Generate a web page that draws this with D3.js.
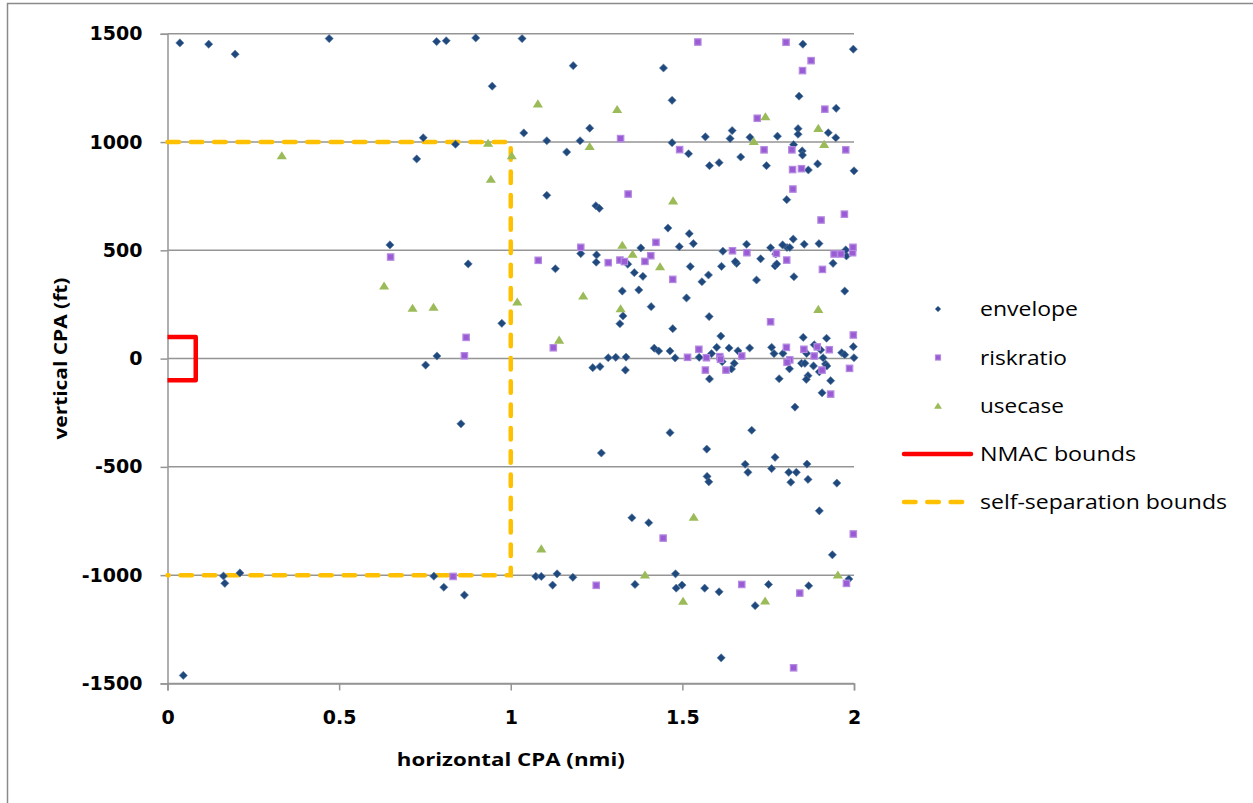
<!DOCTYPE html>
<html><head><meta charset="utf-8">
<script src="https://cdn.jsdelivr.net/npm/d3@7"></script>
<style>html,body{margin:0;padding:0;background:#fff;}svg{display:block;}</style>
</head><body>
<svg id="chart" width="1253" height="803"></svg>
<script>
// ---- data ----
const xTicks = [0, 0.5, 1, 1.5, 2];
const xTickLabels = ["0", "0.5", "1", "1.5", "2"];
const yTicks = [-1500, -1000, -500, 0, 500, 1000, 1500];
const yTickLabels = ["-1500", "-1000", "-500", "0", "500", "1000", "1500"];
const seriesNames = ["envelope", "riskratio", "usecase", "NMAC bounds", "self-separation bounds"];

const envelope = [[0.036,1458],[0.120,1452],[0.197,1406],[0.471,1478],[0.784,1464],[0.812,1468],[0.898,1481],[0.946,1258],[0.745,1020],[0.726,922],[0.839,990],[0.648,525],[0.876,437],[1.033,1478],[1.182,1353],[1.445,1342],[1.851,1452],[1.998,1429],[1.470,1193],[1.840,1212],[1.948,1156],[1.038,1042],[1.105,1006],[1.230,1064],[1.202,1006],[1.163,954],[1.470,997],[1.518,946],[1.579,891],[1.607,905],[1.567,1024],[1.645,1053],[1.639,1016],[1.670,931],[1.697,1022],[1.745,891],[1.777,1027],[1.837,1062],[1.837,1036],[1.824,988],[1.849,959],[1.850,940],[1.867,871],[1.894,899],[1.925,1043],[1.947,1020],[2.0,867],[1.105,754],[1.248,706],[1.258,694],[1.804,734],[1.458,603],[1.520,577],[1.532,531],[1.491,517],[1.618,496],[1.687,528],[1.379,511],[1.204,485],[1.250,479],[1.249,445],[1.130,415],[1.341,436],[1.360,397],[1.385,380],[1.523,425],[1.325,312],[1.373,317],[1.512,280],[1.409,240],[1.327,197],[1.318,161],[0.974,163],[1.472,138],[1.418,48],[1.431,35],[1.464,35],[1.284,4],[1.306,6],[1.336,7],[1.479,3],[1.239,-42],[1.260,-37],[1.334,-53],[1.464,-342],[1.614,426],[1.557,355],[1.576,386],[1.658,440],[1.654,448],[1.728,461],[1.716,363],[1.772,483],[1.770,428],[1.775,437],[1.825,378],[1.939,440],[1.978,474],[1.973,312],[1.578,194],[1.612,104],[1.852,98],[1.920,94],[1.998,55],[1.600,52],[1.636,49],[1.662,36],[1.696,49],[1.585,23],[1.549,6],[1.616,-14],[1.651,-22],[1.643,-48],[1.579,-94],[1.760,52],[1.767,23],[1.793,24],[1.812,-47],[1.782,-93],[1.862,24],[1.884,64],[1.903,40],[1.964,27],[1.973,18],[2.0,4],[1.910,4],[1.847,-22],[1.857,-22],[1.882,-34],[1.917,-25],[1.921,-34],[1.899,-61],[1.866,-79],[1.861,-96],[1.932,-102],[1.907,-158],[1.828,-224],[1.702,-331],[1.264,-436],[1.571,-418],[1.683,-488],[1.770,-456],[1.863,-487],[1.760,-508],[1.691,-525],[1.810,-525],[1.832,-525],[1.816,-571],[1.866,-558],[1.950,-575],[1.572,-544],[1.577,-569],[1.899,-703],[1.353,-735],[1.402,-758],[1.937,-906],[1.073,-1006],[1.089,-1006],[1.135,-994],[1.122,-1046],[1.181,-1010],[1.362,-1043],[1.480,-994],[1.482,-1060],[1.499,-1046],[1.565,-1060],[1.607,-1077],[1.613,-1382],[1.712,-1141],[1.751,-1043],[1.868,-1049],[1.985,-1018],[0.163,-1004],[0.167,-1038],[0.211,-990],[0.046,-1463],[0.776,-1005],[0.805,-1056],[0.865,-1092],[0.785,12],[0.752,-30],[0.855,-301],[1.805,513],[1.813,513],[1.792,525],[1.757,512],[1.823,552],[1.855,528],[1.898,531],[1.976,502]];

const riskratio = [[0.650,469],[0.870,98],[0.865,13],[0.832,-1006],[1.545,1462],[1.802,1461],[1.875,1376],[1.850,1330],[1.915,1152],[1.718,1110],[1.320,1016],[1.492,965],[1.738,964],[1.819,964],[1.976,964],[1.821,873],[1.847,877],[1.822,783],[1.342,760],[1.904,640],[1.972,667],[1.204,514],[1.423,537],[1.080,454],[1.284,443],[1.318,455],[1.331,448],[1.408,475],[1.391,449],[1.472,366],[1.124,50],[1.515,6],[1.646,498],[1.688,489],[1.774,486],[1.804,455],[1.908,412],[1.942,483],[1.962,483],[1.996,489],[1.997,514],[1.757,170],[1.998,109],[1.548,43],[1.570,4],[1.609,9],[1.611,-3],[1.673,12],[1.567,-53],[1.627,-53],[1.803,52],[1.813,-6],[1.805,-17],[1.854,43],[1.893,54],[1.928,41],[1.884,12],[1.907,-53],[1.987,-45],[1.932,-164],[1.444,-829],[1.998,-810],[1.249,-1047],[1.673,-1043],[1.842,-1083],[1.824,-1428],[1.978,-1038]];

const usecase = [[0.333,936],[0.934,994],[0.942,828],[1.003,936],[1.079,1176],[1.310,1150],[1.230,979],[1.473,728],[1.742,1117],[1.708,1002],[1.896,1063],[1.913,989],[1.325,523],[1.355,482],[1.435,424],[1.211,289],[1.320,230],[1.019,261],[1.141,85],[1.896,227],[0.631,335],[0.714,232],[0.775,237],[1.533,-733],[1.089,-879],[1.391,-1000],[1.502,-1121],[1.741,-1120],[1.953,-1000]];

const nmacBounds = [[0,100],[0.0823,100],[0.0823,-100],[0,-100]];
const selfSepBounds = [[0,1000],[1,1000],[1,-1000],[0,-1000]];

// ---- styles ----
const C_ENV = "#1F497D", C_RISK = "#9A5CD4", C_RISK_STROKE = "#B58AE2", C_USE = "#9BBB59";
const C_NMAC = "#FF0000", C_SELF = "#FFC000", C_GRID = "#959595";

const svg = d3.select("#chart");
const x = d3.scaleLinear().domain([0, 2]).range([167.5, 854]);
const y = d3.scaleLinear().domain([-1500, 1500]).range([683.4, 33.8]);

// outer border (chart area frame, partially cropped)
svg.append("rect").attr("x", 7.5).attr("y", 3.5).attr("width", 1400).attr("height", 1000)
  .attr("fill", "none").attr("stroke", "#8a8a8a").attr("stroke-width", 1.5);

// gridlines
svg.append("g").selectAll("line").data(yTicks).join("line")
  .attr("x1", x(0)).attr("x2", x(2)).attr("y1", d => y(d)).attr("y2", d => y(d))
  .attr("stroke", C_GRID).attr("stroke-width", 1.5);

// y axis
const yAxis = d3.axisLeft(y).tickValues(yTicks).tickSize(7).tickPadding(18)
  .tickFormat((d, i) => yTickLabels[i]);
const gy = svg.append("g").attr("transform", `translate(${x(0)},0)`).call(yAxis);
gy.select(".domain").attr("stroke", C_GRID).attr("stroke-width", 1.5);
gy.selectAll(".tick line").attr("stroke", C_GRID).attr("stroke-width", 1.5);
gy.selectAll(".tick text").attr("font-family", "'DejaVu Sans', Verdana, sans-serif")
  .attr("font-weight", "bold").attr("font-size", 19).attr("fill", "#000");

// x axis
const xAxis = d3.axisBottom(x).tickValues(xTicks).tickSize(7).tickPadding(34)
  .tickFormat((d, i) => xTickLabels[i]);
const gx = svg.append("g").attr("transform", `translate(0,${y(-1500)})`).call(xAxis);
gx.select(".domain").attr("stroke", C_GRID).attr("stroke-width", 1.5);
gx.selectAll(".tick line").attr("stroke", C_GRID).attr("stroke-width", 1.5);
gx.selectAll(".tick text").attr("font-family", "'DejaVu Sans', Verdana, sans-serif")
  .attr("font-weight", "bold").attr("font-size", 19).attr("fill", "#000").attr("dy", "0");

// axis titles
svg.append("text").attr("transform", `translate(67,${(y(-1500) + y(1500)) / 2}) rotate(-90)`)
  .attr("text-anchor", "middle").attr("font-family", "'Open Sans', sans-serif")
  .attr("font-weight", "bold").attr("font-size", 18.5).attr("textLength", 162).attr("lengthAdjust", "spacingAndGlyphs")
  .text("vertical CPA (ft)");
svg.append("text").attr("x", (x(0) + x(2)) / 2).attr("y", 766)
  .attr("text-anchor", "middle").attr("font-family", "'Open Sans', sans-serif")
  .attr("font-weight", "bold").attr("font-size", 18.5).attr("textLength", 228).attr("lengthAdjust", "spacingAndGlyphs")
  .text("horizontal CPA (nmi)");

// bounds lines
const line = d3.line().x(d => x(d[0])).y(d => y(d[1]));
svg.append("path").datum(nmacBounds).attr("d", line).attr("fill", "none")
  .attr("stroke", C_NMAC).attr("stroke-width", 4.5).attr("stroke-linejoin", "round");
svg.append("path").datum(selfSepBounds).attr("d", line).attr("fill", "none")
  .attr("stroke", C_SELF).attr("stroke-width", 4.5).attr("stroke-linecap", "round")
  .attr("stroke-dasharray", "11.5 11.8");

// markers
const diamond = s => `M0,${-s}L${s},0L0,${s}L${-s},0Z`;
const tri = s => `M0,${-s}L${s * 1.1},${s * 0.75}L${-s * 1.1},${s * 0.75}Z`;

svg.append("g").selectAll("path").data(envelope).join("path")
  .attr("transform", d => `translate(${x(d[0])},${y(d[1])})`)
  .attr("d", diamond(4.1)).attr("fill", C_ENV).attr("stroke", "#5b7aa5").attr("stroke-width", 0.6);

svg.append("g").selectAll("rect").data(riskratio).join("rect")
  .attr("x", d => x(d[0]) - 3.2).attr("y", d => y(d[1]) - 3.2).attr("width", 6.4).attr("height", 6.4)
  .attr("fill", C_RISK).attr("stroke", C_RISK_STROKE).attr("stroke-width", 1.2);

svg.append("g").selectAll("path").data(usecase).join("path")
  .attr("transform", d => `translate(${x(d[0])},${y(d[1])})`)
  .attr("d", tri(4.6)).attr("fill", C_USE);

// legend
const lg = svg.append("g");
const rowY = [309, 357.5, 406, 454, 502];
const lx = 938, tx = 980;
lg.append("path").attr("transform", `translate(${lx},${rowY[0]})`).attr("d", diamond(3)).attr("fill", C_ENV);
lg.append("rect").attr("x", lx - 2.6).attr("y", rowY[1] - 2.6).attr("width", 5.2).attr("height", 5.2)
  .attr("fill", C_RISK).attr("stroke", C_RISK_STROKE).attr("stroke-width", 1);
lg.append("path").attr("transform", `translate(${lx},${rowY[2]})`).attr("d", tri(3.6)).attr("fill", C_USE);
lg.append("line").attr("x1", 904).attr("x2", 971).attr("y1", rowY[3]).attr("y2", rowY[3])
  .attr("stroke", C_NMAC).attr("stroke-width", 4.5).attr("stroke-linecap", "round");
lg.append("line").attr("x1", 904).attr("x2", 968).attr("y1", rowY[4]).attr("y2", rowY[4])
  .attr("stroke", C_SELF).attr("stroke-width", 4.5).attr("stroke-linecap", "round")
  .attr("stroke-dasharray", "11.5 11.8");
const legendWidths = [98, 87, 84, 156, 247];
lg.selectAll("text").data(seriesNames).join("text")
  .attr("x", tx).attr("y", (d, i) => rowY[i] + 7)
  .attr("font-family", "'Open Sans', sans-serif").attr("font-size", 20.5).attr("fill", "#000")
  .attr("textLength", (d, i) => legendWidths[i]).attr("lengthAdjust", "spacingAndGlyphs")
  .text(d => d);
</script>
</body></html>
